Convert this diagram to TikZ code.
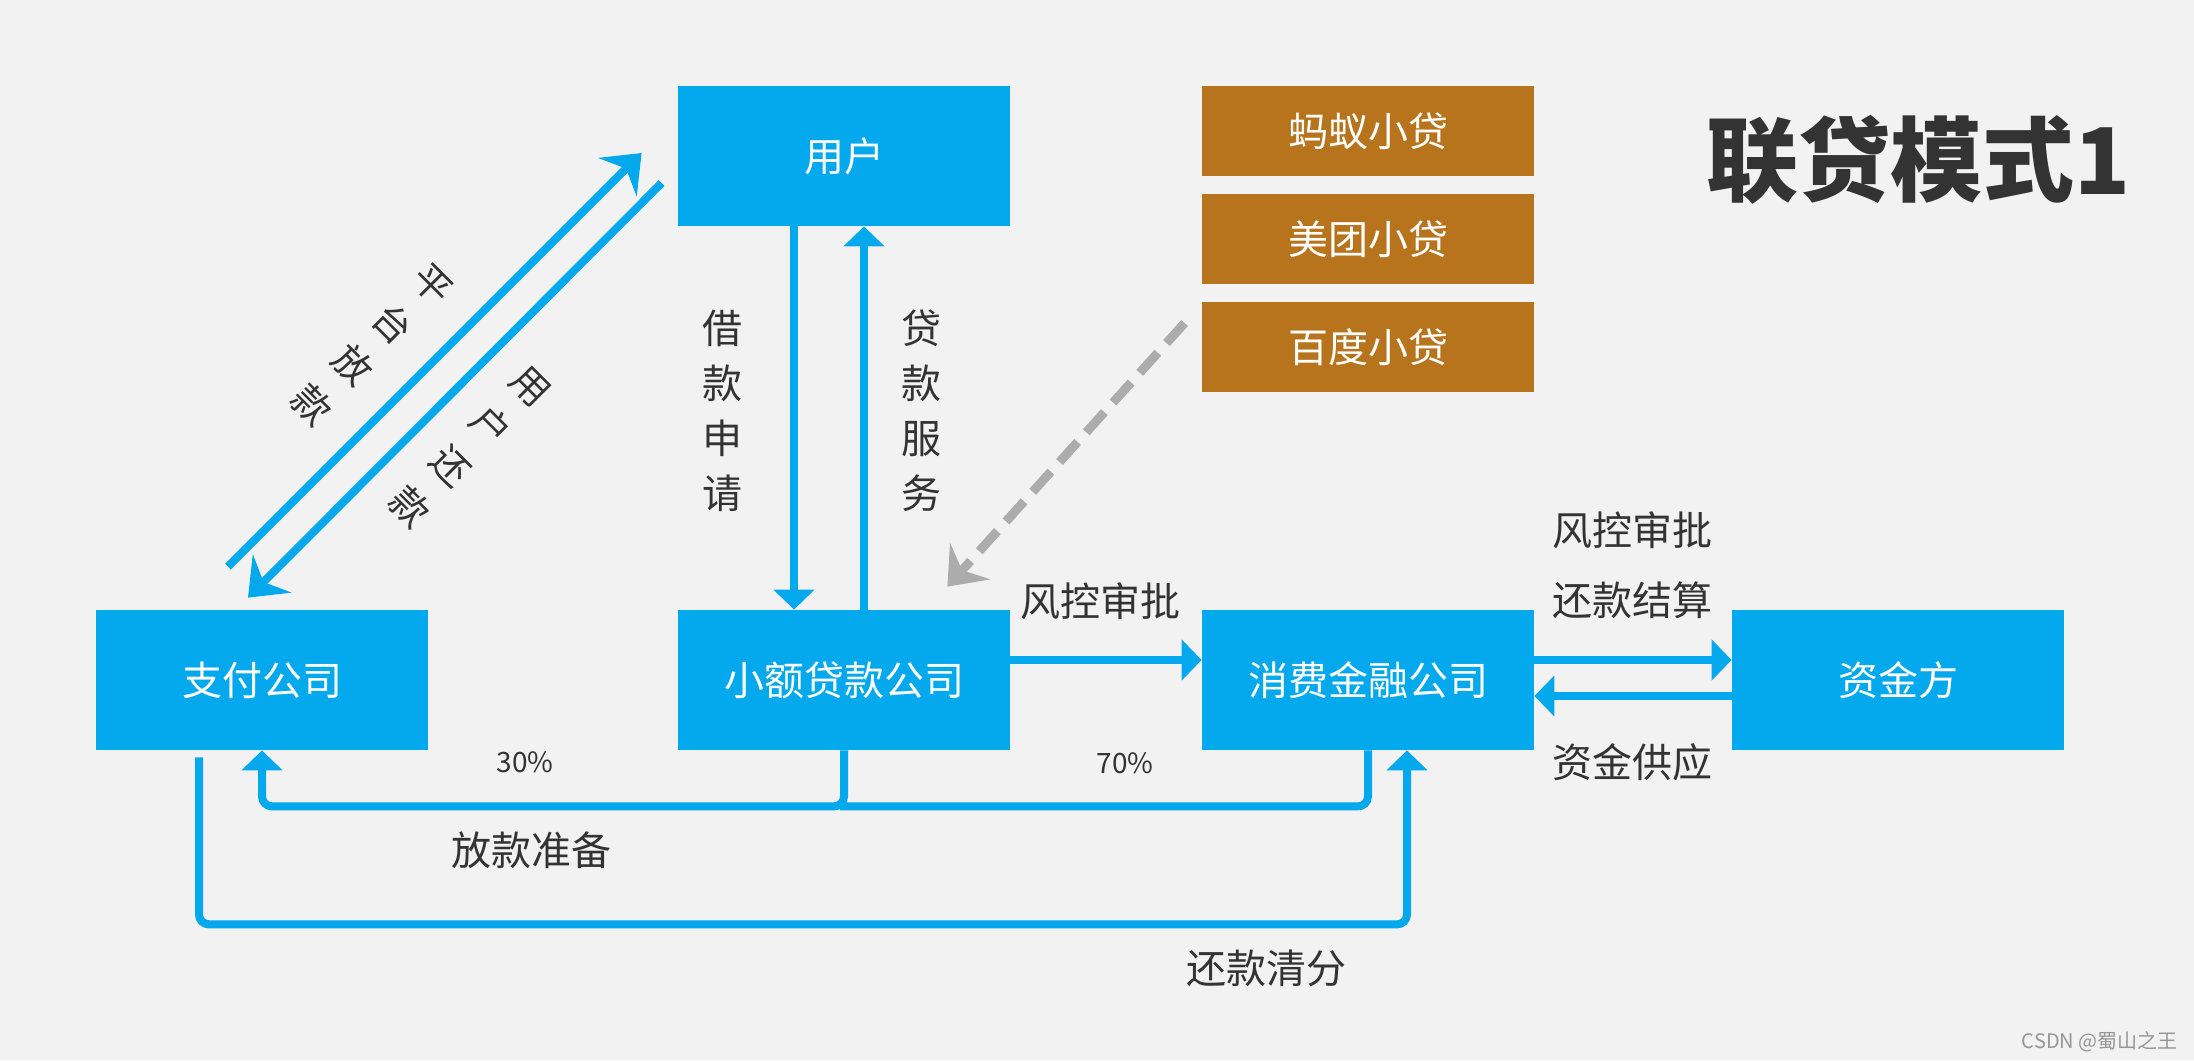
\documentclass[tikz,border=0pt]{standalone}
\usepackage{fontspec}
\setmainfont{Noto Sans CJK SC}
\usetikzlibrary{arrows.meta,calc}
\definecolor{bgc}{RGB}{242,242,242}
\definecolor{blc}{RGB}{4,168,236}
\definecolor{brc}{RGB}{183,116,29}
\definecolor{txc}{RGB}{51,51,51}
\definecolor{dgc}{RGB}{172,172,172}
\definecolor{wmc}{RGB}{150,150,150}
\begin{document}
\begin{tikzpicture}[x=0.5pt,y=-0.5pt,
  box/.style={fill=blc, minimum width=166pt, minimum height=70pt, inner sep=0pt, text=white, font=\fontsize{20pt}{24pt}\selectfont},
  bbox/.style={fill=brc, minimum width=166pt, minimum height=45pt, inner sep=0pt, text=white, font=\fontsize{20pt}{24pt}\selectfont},
  lbl/.style={text=txc, inner sep=0pt, font=\fontsize{20pt}{24pt}\selectfont},
  vlbl/.style={text=txc, inner sep=0pt, align=center, font=\fontsize{20pt}{27.5pt}\selectfont},
  dlbl/.style={text=txc, inner sep=0pt, align=center, rotate=-45, font=\fontsize{19pt}{28.5pt}\selectfont},
  pct/.style={text=txc, inner sep=0pt, font=\fontsize{14pt}{16pt}\selectfont},
  flow/.style={draw=blc, line width=4pt, -{Triangle[length=10pt,width=20pt]}},
  plain/.style={draw=blc, line width=4pt},
  diag/.style={draw=blc, line width=4pt, -{Stealth[length=17pt,width=27pt,inset=6pt]}},
  gdash/.style={draw=dgc, line width=4.5pt, dash pattern=on 13.5pt off 6.5pt, -{Stealth[length=17pt,width=27pt,inset=6pt]}}
]
\fill[bgc] (0,0) rectangle (2194,1060);
\useasboundingbox (0,0) rectangle (2194,1060);

% boxes
\node[box] (yh) at (844,156) {用户};
\node[box] (zf) at (262,680) {支付公司};
\node[box] (xe) at (844,680) {小额贷款公司};
\node[box] (xf) at (1368,680) {消费金融公司};
\node[box] (zj) at (1898,680) {资金方};
\node[bbox] (my) at (1368,131) {蚂蚁小贷};
\node[bbox] (mt) at (1368,239) {美团小贷};
\node[bbox] (bd) at (1368,347) {百度小贷};

% title
\node[text=txc, inner sep=0pt, font=\fontsize{46pt}{50pt}\selectfont\bfseries] (title) at (1918,160) {联贷模式1};

% vertical arrows user <-> xe
\draw[flow] ([xshift=-25pt]yh.south) -- ([xshift=-25pt]xe.north);
\draw[flow] ([xshift=10pt]xe.north) -- ([xshift=10pt]yh.south);
\node[vlbl] (l1) at (722,411) {借\\款\\申\\请};
\node[vlbl] (l2) at (921,411) {贷\\款\\服\\务};

% diagonal arrows
\coordinate (d1s) at ($(zf.north)+(-34,-43)$);
\coordinate (d1e) at ($(yh.west)+(-36,-3)$);
\coordinate (d2s) at ($(yh.west)+(-16,27)$);
\coordinate (d2e) at ($(zf.north)+(-14,-12)$);
\draw[diag] (d1s) -- (d1e);
\draw[diag] (d2s) -- (d2e);
\node[dlbl] (l3) at (372,345) {平\\台\\放\\款};
\node[dlbl] (l4) at (470,447) {用\\户\\还\\款};

% gray dashed
\coordinate (g1) at ($(bd.west)+(-17,-24)$);
\coordinate (g2) at ($(xe.north east)+(-63,-23)$);
\draw[gdash] (g1) -- (g2);

% horizontal arrows
\draw[flow] ([yshift=10pt]xe.east) -- ([yshift=10pt]xf.west);
\draw[flow] ([yshift=10pt]xf.east) -- ([yshift=10pt]zj.west);
\draw[flow] ([yshift=-8pt]zj.west) -- ([yshift=-8pt]xf.east);
\node[lbl] (l5) at (1100,601) {风控审批};
\node[lbl] (l6) at (1632,530) {风控审批};
\node[lbl] (l7) at (1632,600) {还款结算};
\node[lbl] (l8) at (1632,762) {资金供应};

% bottom routes
\coordinate (jn) at ($(xe.south)+(0,56)$);
\draw[plain, rounded corners=5pt] (xf.south) |- ([xshift=-2pt]jn);
\draw[flow, rounded corners=5pt] (xe.south) -- (jn) -| (zf.south);
\node[pct] (p1) at (525,762) {30\%};
\node[pct] (p2) at (1125,763) {70\%};
\node[lbl] (l9) at (531,850) {放款准备};

\draw[flow, rounded corners=5pt] ([xshift=-31.5pt,yshift=-3.5pt]zf.south) -- ++(0,167) -| ([xshift=19.5pt]xf.south);
\node[lbl] (l10) at (1266,968) {还款清分};

% watermark
\node[text=wmc, inner sep=0pt, anchor=east, font=\fontsize{10pt}{11pt}\selectfont] (wm) at (2178,1042) {CSDN @蜀山之王};
\end{tikzpicture}
\end{document}
